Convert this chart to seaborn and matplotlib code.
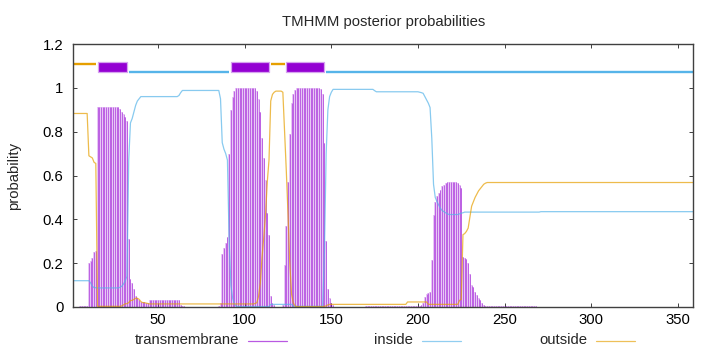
import numpy as np
import pandas as pd
import matplotlib
matplotlib.use("Agg")
import matplotlib.pyplot as plt
import seaborn as sns
from matplotlib.lines import Line2D

# ---------------- data ----------------
seq_len = 359
residues = list(range(1, seq_len + 1))

tm_prob = (
    [0.0] * 4 + [0.004] * 5
    + [0.2, 0.21, 0.225, 0.25, 0.256]
    + [0.912] * 13
    + [0.905, 0.89, 0.88, 0.865, 0.85, 0.31, 0.13, 0.11, 0.08, 0.05, 0.04, 0.03, 0.022]
    + [0.022, 0.022, 0.02, 0.018]
    + [0.031] * 18
    + [0.008, 0.004, 0.003, 0.002]
    + [0.0] * 18
    + [0.003, 0.02, 0.24, 0.27, 0.29, 0.32, 0.7, 0.9, 0.96, 0.985]
    + [0.998] * 12
    + [0.985, 0.95, 0.89, 0.77, 0.68, 0.58, 0.43, 0.33, 0.05, 0.02, 0.01]
    + [0.002] * 4
    + [0.01, 0.19, 0.37, 0.57, 0.79, 0.93, 0.97, 0.99]
    + [0.998] * 14
    + [0.995, 0.97, 0.75, 0.3, 0.08, 0.04, 0.02, 0.01]
    + [0.0] * 18
    + [0.003] * 31
    + [0.005, 0.01, 0.02, 0.047, 0.06, 0.065, 0.07, 0.215, 0.42, 0.48, 0.505, 0.52,
       0.535, 0.55, 0.558, 0.565, 0.57, 0.57, 0.57, 0.57, 0.57, 0.57, 0.565, 0.558, 0.543]
    + [0.23, 0.225, 0.22, 0.2, 0.15, 0.1, 0.09, 0.07, 0.055, 0.04, 0.03, 0.02, 0.01, 0.005]
    + [0.003] * 29
    + [0.0] * 91
)

inside_prob = (
    [0.12] * 9
    + [0.12, 0.11, 0.095, 0.088, 0.088]
    + [0.087] * 13
    + [0.09, 0.095, 0.105, 0.12, 0.14, 0.67, 0.84, 0.86, 0.89, 0.92, 0.94, 0.95, 0.96]
    + [0.96] * 21
    + [0.965, 0.978, 0.988]
    + [0.988] * 21
    + [0.95, 0.75, 0.72, 0.70, 0.67, 0.3, 0.1, 0.04, 0.015, 0.004]
    + [0.002] * 19
    + [0.012] * 13
    + [0.003] * 18
    + [0.25, 0.7, 0.9, 0.96, 0.98]
    + [0.993] * 24
    + [0.987]
    + [0.982] * 25
    + [0.98, 0.978, 0.975, 0.96, 0.945, 0.93, 0.91, 0.77]
    + [0.56, 0.5, 0.48, 0.465, 0.45, 0.44, 0.435, 0.43, 0.425, 0.422, 0.422, 0.422,
       0.422, 0.422, 0.422, 0.425, 0.428, 0.43]
    + [0.433] * 44
    + [0.435] * 89
)

outside_prob = (
    [0.883] * 9
    + [0.69, 0.685, 0.68, 0.66, 0.655]
    + [0.003] * 14
    + [0.005, 0.01, 0.015, 0.015, 0.02, 0.03, 0.03, 0.035, 0.04, 0.04, 0.035, 0.025,
       0.02, 0.02, 0.018, 0.016]
    + [0.014] * 61
    + [0.016, 0.02, 0.05, 0.11, 0.23, 0.32, 0.42, 0.57, 0.67, 0.94, 0.97, 0.98, 0.985,
       0.985, 0.985, 0.985, 0.98]
    + [0.8, 0.62, 0.42, 0.2, 0.06, 0.02, 0.005]
    + [0.002] * 16
    + [0.003, 0.005, 0.01, 0.012, 0.012]
    + [0.012] * 43
    + [0.023] * 12
    + [0.012] * 18
    + [0.03, 0.035, 0.33, 0.335, 0.345, 0.36, 0.41, 0.46, 0.48, 0.5, 0.515, 0.53, 0.54,
       0.55, 0.56, 0.565]
    + [0.568] * 120
)

assert len(tm_prob) == seq_len and len(inside_prob) == seq_len and len(outside_prob) == seq_len

# predicted topology
outside_segments = [(1, 14), (115, 123)]
tm_segments = [(15, 32), (92, 114), (124, 146)]
inside_segments = [(33, 91), (147, 359)]
topo_level_outside = 1.11
topo_level_tm = 1.094
topo_level_inside = 1.072

x_ticks = [50, 100, 150, 200, 250, 300, 350]
y_ticks = [0, 0.2, 0.4, 0.6, 0.8, 1.0, 1.2]
y_tick_labels = ["0", "0.2", "0.4", "0.6", "0.8", "1", "1.2"]
series_names = ["transmembrane", "inside", "outside"]

df = pd.DataFrame({"residue": residues, "transmembrane": tm_prob,
                   "inside": inside_prob, "outside": outside_prob})

# ---------------- style ----------------
sns.set_theme(style="white")
plt.rcParams["font.family"] = ["Liberation Sans", "DejaVu Sans"]
FS = 10.7

c_tm = "#9400d3"
c_in = "#56b4e9"
c_out = "#e69f00"

W, H = 720, 352
fig = plt.figure(figsize=(W / 100, H / 100), dpi=100)
ax = fig.add_axes([73.3 / W, 1 - 307 / H, 620 / W, 263 / H])

# impulses for transmembrane
ax.bar(df["residue"], df["transmembrane"], width=1.0, color=c_tm, alpha=0.22,
       linewidth=0, zorder=2)
ax.vlines(df["residue"], 0, df["transmembrane"], color=c_tm, alpha=0.5,
          linewidth=0.72, zorder=3)

sns.lineplot(data=df, x="residue", y="inside", ax=ax, color=c_in, alpha=0.7,
             linewidth=0.9, legend=False, zorder=4)
sns.lineplot(data=df, x="residue", y="outside", ax=ax, color=c_out, alpha=0.7,
             linewidth=0.9, legend=False, zorder=4)

# topology bar
for s, e in outside_segments:
    ax.hlines(topo_level_outside, s, e, color=c_out, linewidth=1.7, zorder=5)
for s, e in inside_segments:
    ax.hlines(topo_level_inside, s, e, color=c_in, linewidth=1.7, zorder=5)
ax.broken_barh([(s, e - s) for s, e in tm_segments], (topo_level_tm - 0.024, 0.048),
               facecolors=c_tm, edgecolors="#d6a3ef", linewidth=0.9, zorder=6)

ax.set_xlim(1, seq_len)
ax.set_ylim(0, 1.2)
ax.set_xticks(x_ticks)
ax.set_xticklabels([str(t) for t in x_ticks])
ax.set_yticks(y_ticks)
ax.set_yticklabels(y_tick_labels)
ax.set_xlabel("")
ax.set_ylabel("")
ax.tick_params(direction="in", length=3.2, width=0.7, color="#404040",
               top=True, right=True, bottom=True, left=True, labelsize=FS,
               labelcolor="black")
ax.tick_params(axis="y", pad=7)
ax.tick_params(axis="x", pad=4.5)
for sp in ax.spines.values():
    sp.set_color("#404040")
    sp.set_linewidth(1.0)
    sp.set_zorder(7)

fig.text(383.3 / W, 1 - 22 / H, "TMHMM posterior probabilities", ha="center",
         va="center", fontsize=FS)
fig.text(14.5 / W, 1 - 175.5 / H, "probability", rotation=90, ha="center",
         va="center", fontsize=FS)

# legend (gnuplot style: text then sample)
legend_y = 1 - 340.5 / H
legend_text_ends = [239, 413, 587]
legend_colors = [c_tm, c_in, c_out]
for name, xe, col in zip(series_names, legend_text_ends, legend_colors):
    fig.text(xe / W, legend_y, name, ha="right", va="center", fontsize=FS)
    fig.add_artist(Line2D([(xe + 9) / W, (xe + 48) / W], [legend_y, legend_y],
                          color=col, alpha=0.65, linewidth=0.9,
                          transform=fig.transFigure))

fig.savefig("out.png", dpi=100)
